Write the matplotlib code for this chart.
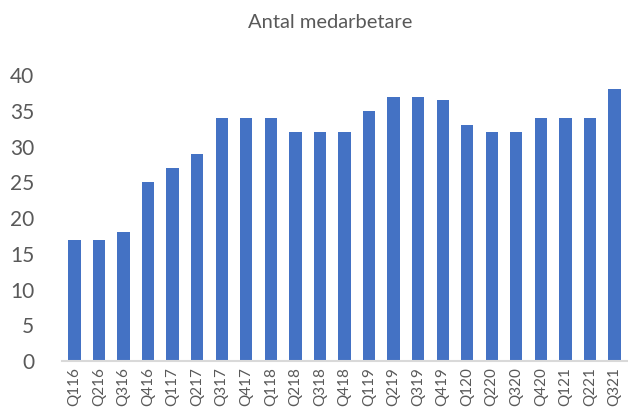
import matplotlib
matplotlib.use('Agg')
import matplotlib.pyplot as plt

quarters = ['Q116', 'Q216', 'Q316', 'Q416', 'Q117', 'Q217', 'Q317', 'Q417',
            'Q118', 'Q218', 'Q318', 'Q418', 'Q119', 'Q219', 'Q319', 'Q419',
            'Q120', 'Q220', 'Q320', 'Q420', 'Q121', 'Q221', 'Q321']
employees = [17, 17, 18, 25, 27, 29, 34, 34, 34, 32, 32, 32, 35, 37, 37, 36.5,
             33, 32, 32, 34, 34, 34, 38]
yticks = [0, 5, 10, 15, 20, 25, 30, 35, 40]

plt.rcParams['font.family'] = ['Lato', 'DejaVu Sans']

fig = plt.figure(figsize=(6.28, 4.08), dpi=100)
ax = fig.add_axes([0.099, 0.115, 0.899, 0.701])

x = range(len(quarters))
ax.bar(x, employees, width=0.5, color='#4472C4')

ax.set_xlim(-0.5, len(quarters) - 0.5)
ax.set_ylim(0, 40)
ax.set_yticks(yticks)
ax.set_yticklabels([str(v) for v in yticks], fontsize=15, color='#595959')
ax.set_xticks(list(x))
ax.set_xticklabels(quarters, rotation=90, fontsize=11, color='#595959')
ax.tick_params(axis='both', length=0)
ax.tick_params(axis='y', pad=20)
ax.tick_params(axis='x', pad=4)

for s in ['top', 'right', 'left']:
    ax.spines[s].set_visible(False)
ax.spines['bottom'].set_color('#D9D9D9')
ax.spines['bottom'].set_linewidth(1.5)

fig.text(0.525, 0.945, 'Antal medarbetare', ha='center', va='center',
         fontsize=14.5, color='#595959')

fig.savefig('out.png', dpi=100)
